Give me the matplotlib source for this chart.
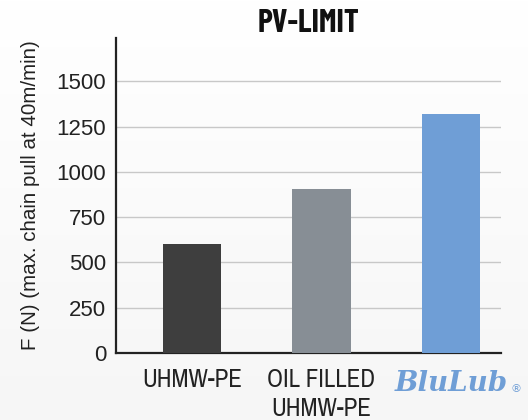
import matplotlib
matplotlib.use("Agg")
import matplotlib.pyplot as plt
import numpy as np

categories = ["UHMW-PE", "OIL FILLED\nUHMW-PE", "BluLub"]
values = [600, 905, 1320]
colors = ["#3e3e3e", "#878e95", "#6f9ed6"]
yticks = [0, 250, 500, 750, 1000, 1250, 1500]

narrow = ["Archivo Narrow", "DejaVu Sans"]
cond_bold = ["Barlow Condensed", "DejaVu Sans"]
regular = ["Liberation Sans", "DejaVu Sans"]

fig = plt.figure(figsize=(5.28, 4.2), dpi=100)
# background gradient: white at top, light grey at bottom
grad = np.linspace(0.965, 1.0, 420)[:, None] * np.ones((1, 528))
fig.figimage(np.dstack([grad, grad, grad]), xo=0, yo=0, origin="lower", zorder=-10)

ax = fig.add_axes([116/528, (420-353)/420, 385/528, 315/420])
ax.patch.set_alpha(0)
x = np.arange(len(categories))
ax.bar(x, values, width=0.455, color=colors, zorder=3)
ax.set_xlim(-0.587, 2.386)
ax.set_ylim(0, 1740)
ax.set_yticks(yticks)
ax.set_yticklabels([str(v) for v in yticks], fontsize=16, family=regular, color="#222222")
ax.yaxis.grid(True, color="#c8c8c8", linewidth=1)
ax.set_axisbelow(True)
ax.tick_params(axis="y", length=0, pad=7)
ax.tick_params(axis="x", length=0, pad=11)
for s in ["top", "right"]:
    ax.spines[s].set_visible(False)
for s in ["left", "bottom"]:
    ax.spines[s].set_linewidth(1.6)
    ax.spines[s].set_color("#222222")
ax.set_xticks(x)
ax.set_xticklabels(["UHMW-PE", "OIL FILLED\nUHMW-PE", ""], fontsize=18, family=narrow,
                   color="#222222", va="top", linespacing=1.3)
ax.text(2.0, -0.055, "BluLub", transform=ax.get_xaxis_transform(), ha="center", va="top",
        fontsize=20, fontweight="bold", fontstyle="italic", family=["DejaVu Serif"],
        color="#6f9ed6")
ax.text(2.5, -0.098, "®", transform=ax.get_xaxis_transform(), ha="center", va="top",
        fontsize=8, color="#6f9ed6")
ax.set_title("PV-LIMIT", fontsize=23, fontweight="bold", family=cond_bold, color="#111111", pad=3)
ax.set_ylabel("F (N) (max. chain pull at 40m/min)", fontsize=14.8, family=regular,
              color="#222222", labelpad=12)
fig.savefig("out.png", dpi=100)
